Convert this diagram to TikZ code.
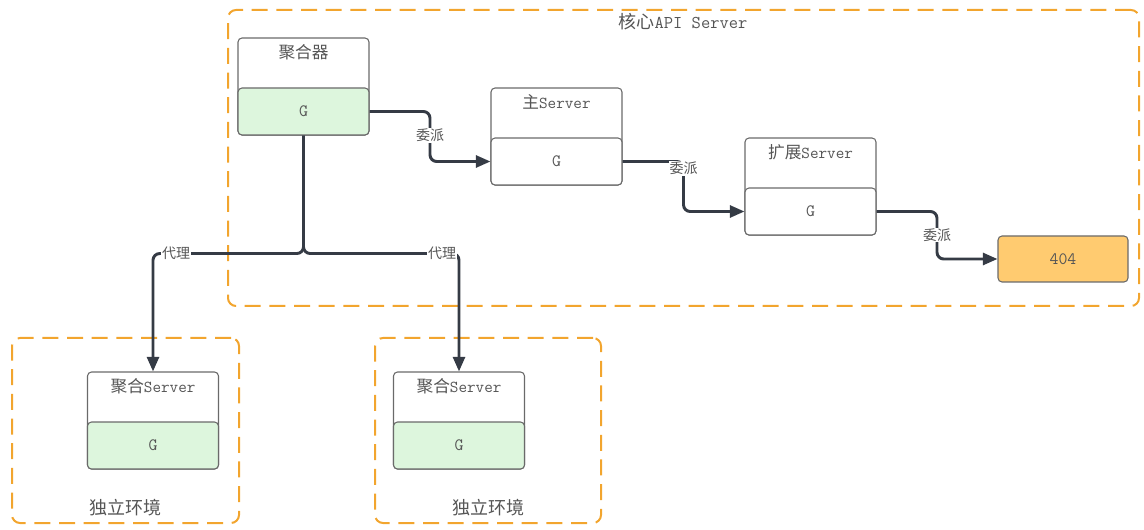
\documentclass[tikz,border=0pt]{standalone}
\usepackage{fontspec}
\newfontfamily\cjk{Noto Sans CJK SC}
\usetikzlibrary{arrows.meta,calc}
\definecolor{orng}{HTML}{F2A52E}
\definecolor{gfill}{HTML}{DDF6DD}
\definecolor{ofill}{HTML}{FFCB70}
\definecolor{lnc}{HTML}{353B45}
\definecolor{txc}{HTML}{555555}
\definecolor{bdc}{HTML}{6A6A6A}
\newcommand\zh[1]{{\cjk #1}}
\newcommand\mycompbox[5]{%
  \node[boxs, minimum height=72.75pt] (#1) at (#2,#3+48.5) {};
  \node[ttl] (#1t) at (#2,#3+14) {#4};
  \node[boxs, fill=#5, minimum height=35.25pt, font=\ttfamily\fontsize{13}{15}\selectfont] (#1g) at (#2,#3+73.5) {G};
}
\begin{document}
\begin{tikzpicture}[x=0.75pt,y=-0.75pt,
  cont/.style={draw=orng, line width=1.5pt, dash pattern=on 12pt off 6.5pt, rounded corners=6pt, inner sep=0pt},
  boxs/.style={draw=bdc, line width=0.8pt, fill=white, rounded corners=3pt, minimum width=98.25pt, inner sep=0pt, text=txc},
  ttl/.style={text=txc, font=\ttfamily\fontsize{12.5}{14}\selectfont, inner sep=0pt},
  clab/.style={text=txc, font=\ttfamily\fontsize{13.5}{15}\selectfont, inner sep=0pt},
  elab/.style={text=txc, fill=white, font=\cjk\fontsize{10.5}{12}\selectfont, inner sep=0.5pt},
  conn/.style={draw=lnc, line width=2.2pt, rounded corners=5pt, -{Triangle[length=11pt,width=9pt]}},
  line/.style={draw=lnc, line width=2.2pt, rounded corners=5pt}
]
\useasboundingbox (0,0) rectangle (1144,530);
% containers
\node[cont, minimum width=683.25pt, minimum height=222pt] (core) at (683.5,158) {};
\node[clab] (coret) at (683,22) {\zh{核心}API Server};
\node[cont, minimum width=170.25pt, minimum height=138.75pt] (envl) at (125.5,430.5) {};
\node[clab] (envlt) at (125,508) {\zh{独立环境}};
\node[cont, minimum width=169.5pt, minimum height=138.75pt] (envr) at (488,430.5) {};
\node[clab] (envrt) at (488,508) {\zh{独立环境}};
% boxes
\mycompbox{agg}{303.5}{38}{\zh{聚合器}}{gfill}
\mycompbox{main}{556.5}{88}{\zh{主}Server}{white}
\mycompbox{ext}{810.5}{138}{\zh{扩展}Server}{white}
\mycompbox{lagg}{153}{372}{\zh{聚合}Server}{gfill}
\mycompbox{ragg}{459}{372}{\zh{聚合}Server}{gfill}
\node[boxs, fill=ofill, minimum width=97.5pt, minimum height=34.5pt, font=\ttfamily\fontsize{13}{15}\selectfont] (nf) at (1063,259) {404};
% delegation
\coordinate (m1) at ($(aggg.east)!0.5!(maing.west)$);
\coordinate (m2) at ($(maing.east)!0.5!(extg.west)$);
\coordinate (m3) at ($(extg.east)!0.5!(nf.west)$);
\draw[conn] (aggg.east) -| (m1) |- (maing.west);
\draw[conn] (maing.east) -| (m2) |- (extg.west);
\draw[conn] (extg.east) -| (m3) |- (nf.west);
\node[elab] (l1) at ($(m1)+(0,-1)$) {委派};
\node[elab] (l2) at ($(m2)+(0,-18)$) {委派};
\node[elab] (l3) at (m3) {委派};
% proxy
\coordinate (split) at ($(aggg.south)+(0,118)$);
\draw[conn] (aggg.south) -- (split) -| (lagg.north);
\draw[conn] (aggg.south) -- (split) -| (ragg.north);
\node[elab] (p1) at ($(lagg.north |- split)+(23,0)$) {代理};
\node[elab] (p2) at ($(ragg.north |- split)+(-17,0)$) {代理};
\end{tikzpicture}
\end{document}
